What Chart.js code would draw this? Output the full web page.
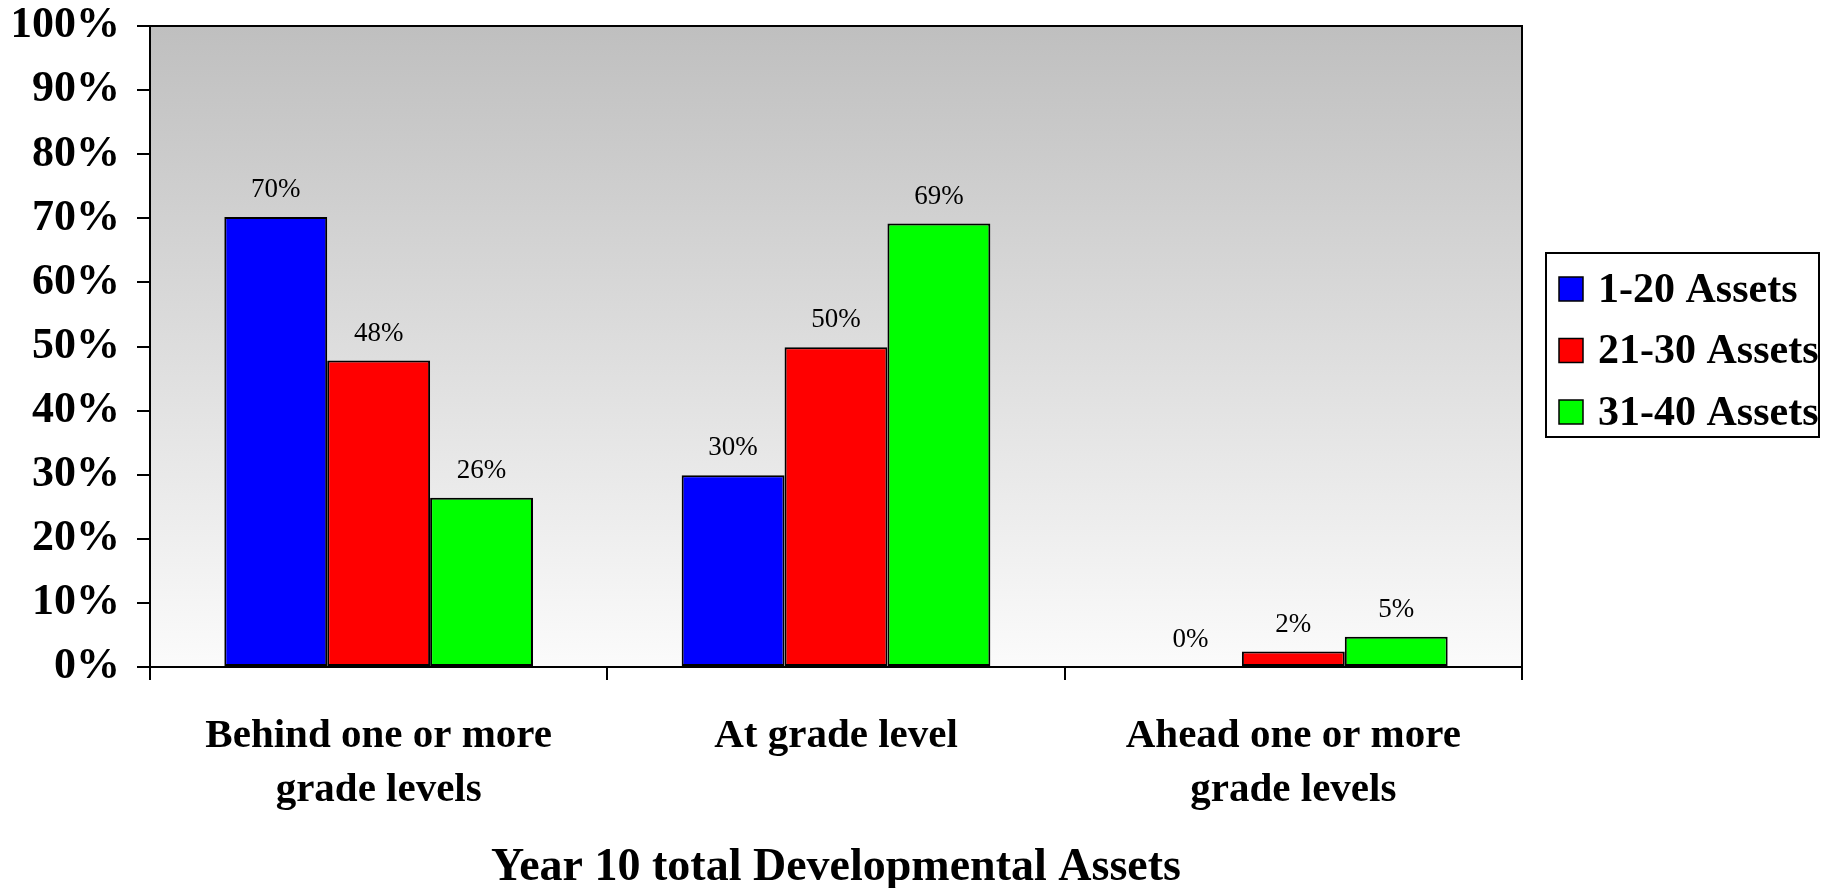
<!DOCTYPE html>
<html>
<head>
<meta charset="utf-8">
<script src="https://cdn.jsdelivr.net/npm/chart.js@4"></script>
<style>
  html, body { margin: 0; padding: 0; background: #fff; }
  #wrap { width: 1826px; height: 888px; position: relative; }
</style>
</head>
<body>
<div id="wrap"><canvas id="myChart"></canvas></div>
<script>
const categories = [
    ['Behind one or more', 'grade levels'],
    'At grade level',
    ['Ahead one or more', 'grade levels']
];
const seriesNames = ['1-20 Assets', '21-30 Assets', '31-40 Assets'];
const seriesColors = ['#0000ff', '#ff0000', '#00ff00'];
const assets1to20 = [70.2, 29.9, 0];
const assets21to30 = [47.8, 49.9, 2.4];
const assets31to40 = [26.4, 69.2, 4.7];
const yTicks = [0, 10, 20, 30, 40, 50, 60, 70, 80, 90, 100];
const xTitle = 'Year 10 total Developmental Assets';

Chart.defaults.font.family = "'Liberation Serif', 'Times New Roman', serif";
Chart.defaults.color = '#000';

const ctx = document.getElementById('myChart');

// gray-to-white fill and the box round the plot
const plotBackground = {
    id: 'plotBackground',
    beforeDraw(chart) {
        const { ctx, chartArea: a } = chart;
        const g = ctx.createLinearGradient(0, a.top, 0, a.bottom);
        g.addColorStop(0, '#bfbfbf');
        g.addColorStop(1, '#fbfbfb');
        ctx.save();
        ctx.fillStyle = g;
        ctx.fillRect(a.left, a.top, a.right - a.left, a.bottom - a.top);
        ctx.restore();
    },
    afterDraw(chart) {
        const { ctx, chartArea: a } = chart;
        ctx.save();
        ctx.strokeStyle = '#000';
        ctx.lineWidth = 2;
        ctx.strokeRect(a.left, a.top, a.right - a.left, a.bottom - a.top);
        ctx.restore();
    }
};

// value labels above each bar
const barLabels = {
    id: 'barLabels',
    afterDatasetsDraw(chart) {
        const { ctx } = chart;
        ctx.save();
        ctx.font = "27px 'Liberation Serif'";
        ctx.fillStyle = '#000';
        ctx.textAlign = 'center';
        ctx.textBaseline = 'middle';
        chart.data.datasets.forEach((ds, i) => {
            chart.getDatasetMeta(i).data.forEach((bar, j) => {
                ctx.fillText(Math.round(ds.data[j]) + '%', bar.x, bar.y - 27);
            });
        });
        ctx.restore();
    }
};

// boxed legend to the right of the plot
const boxLegend = {
    id: 'boxLegend',
    afterDraw(chart) {
        const { ctx, chartArea: a } = chart;
        const left = a.right + 24, top = a.top + 227;
        const w = 273, h = 184, rowH = 61.5;
        ctx.save();
        ctx.fillStyle = '#fff';
        ctx.fillRect(left, top, w, h);
        ctx.strokeStyle = '#000';
        ctx.lineWidth = 2;
        ctx.strokeRect(left, top, w, h);
        ctx.font = "bold 42px 'Liberation Serif'";
        ctx.textBaseline = 'middle';
        ctx.textAlign = 'left';
        chart.data.datasets.forEach((ds, i) => {
            const cy = top + 36 + i * rowH;
            ctx.fillStyle = ds.backgroundColor;
            ctx.fillRect(left + 13, cy - 12, 24, 24);
            ctx.lineWidth = 1.5;
            ctx.strokeRect(left + 13, cy - 12, 24, 24);
            ctx.fillStyle = '#000';
            ctx.fillText(ds.label, left + 52, cy + 2);
        });
        ctx.restore();
    }
};

new Chart(ctx, {
    type: 'bar',
    data: {
        labels: categories,
        datasets: [
            { label: seriesNames[0], data: assets1to20, backgroundColor: seriesColors[0] },
            { label: seriesNames[1], data: assets21to30, backgroundColor: seriesColors[1] },
            { label: seriesNames[2], data: assets31to40, backgroundColor: seriesColors[2] }
        ]
    },
    options: {
        responsive: true,
        maintainAspectRatio: false,
        animation: false,
        layout: { padding: { left: 14, right: 304, top: 0, bottom: 0 } },
        datasets: {
            bar: {
                borderColor: '#000',
                borderWidth: 2,
                borderSkipped: false,
                barPercentage: 1,
                categoryPercentage: 0.675
            }
        },
        plugins: {
            legend: { display: false },
            tooltip: { enabled: false }
        },
        scales: {
            x: {
                afterFit(axis) {
                    axis.height = 221;
                },
                grid: {
                    offset: true,
                    drawOnChartArea: false,
                    tickLength: 13,
                    color: '#000',
                    lineWidth: 2
                },
                border: { color: '#000', width: 2 },
                ticks: {
                    padding: 30,
                    maxRotation: 0,
                    font: { size: 41, weight: 'bold', lineHeight: 1.3 }
                },
                title: {
                    display: true,
                    text: xTitle,
                    font: { size: 46, weight: 'bold', lineHeight: 0.85 },
                    padding: { top: 0, bottom: 0 }
                }
            },
            y: {
                min: 0,
                max: 100,
                afterBuildTicks(axis) {
                    axis.ticks = yTicks.map(v => ({ value: v }));
                },
                afterFit(axis) {
                    axis.width = 136;
                    axis.paddingTop = 26;
                },
                grid: {
                    drawOnChartArea: false,
                    tickLength: 13,
                    color: '#000',
                    lineWidth: 2
                },
                border: { color: '#000', width: 2 },
                ticks: {
                    padding: 17,
                    font: { size: 44, weight: 'bold' },
                    callback: v => v + '%'
                }
            }
        }
    },
    plugins: [plotBackground, barLabels, boxLegend]
});
</script>
</body>
</html>
